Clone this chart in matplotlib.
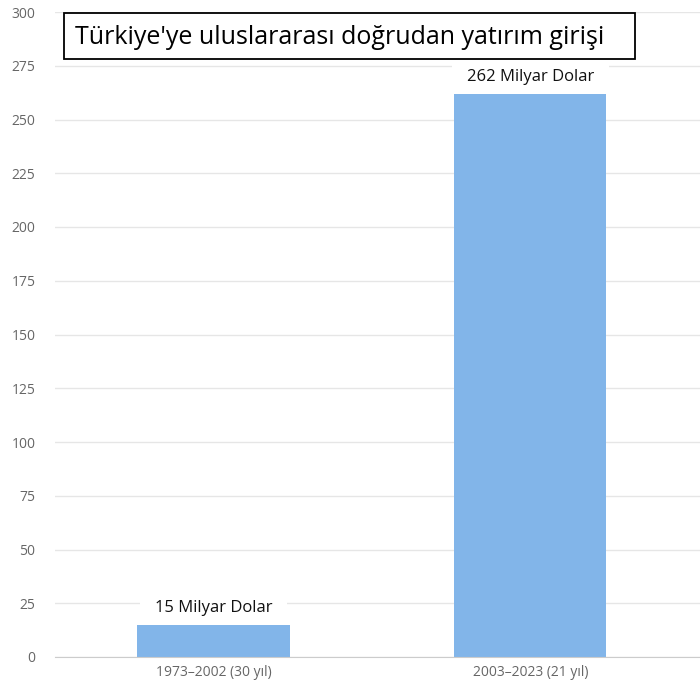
import matplotlib
matplotlib.use("Agg")
import matplotlib.pyplot as plt
from matplotlib.patches import Rectangle

categories = ["1973–2002 (30 yıl)", "2003–2023 (21 yıl)"]
values = [15, 262]
labels = ["15 Milyar Dolar", "262 Milyar Dolar"]
yticks = [0, 25, 50, 75, 100, 125, 150, 175, 200, 225, 250, 275, 300]
title = "Türkiye'ye uluslararası doğrudan yatırım girişi"

plt.rcParams['font.family'] = ['Open Sans', 'DejaVu Sans']

fig = plt.figure(figsize=(7, 7), dpi=100)
ax = fig.add_axes([55/700, 1 - 657/700, 645/700, 645/700])
x = list(range(len(categories)))
ax.bar(x, values, width=0.48, color="#82b5e9", zorder=3)
ax.set_xlim(-0.5, 1.535)
ax.set_ylim(0, 300)
ax.set_yticks(yticks)
ax.set_xticks(x)
ax.set_xticklabels(categories)
ax.tick_params(axis='both', length=0, colors="#666666", labelsize=10)
ax.tick_params(axis='y', pad=14)
ax.tick_params(axis='x', pad=6)
ax.grid(axis='y', color="#e6e6e6", linewidth=1, zorder=0)
ax.set_axisbelow(True)
for s in ["top", "right", "left"]:
    ax.spines[s].set_visible(False)
ax.spines["bottom"].set_color("#cccccc")
ax.spines["bottom"].set_zorder(4)

for xi, v, lab in zip(x, values, labels):
    ax.annotate(lab, (xi, v), xytext=(0, 9.5), textcoords="offset points",
                ha="center", va="baseline", fontsize=12, color="#111111",
                bbox=dict(boxstyle="square,pad=0.9", fc="white", ec="none"), zorder=2)

fig.patches.append(Rectangle((64/700, 1 - 59/700), 571/700, 46.5/700,
                             transform=fig.transFigure, fc="white", ec="black",
                             lw=1.3, zorder=5))
fig.text(75/700, 1 - 37/700, title, ha="left", va="center", fontsize=18,
         color="black", zorder=6)

fig.savefig("out.png", dpi=100)
